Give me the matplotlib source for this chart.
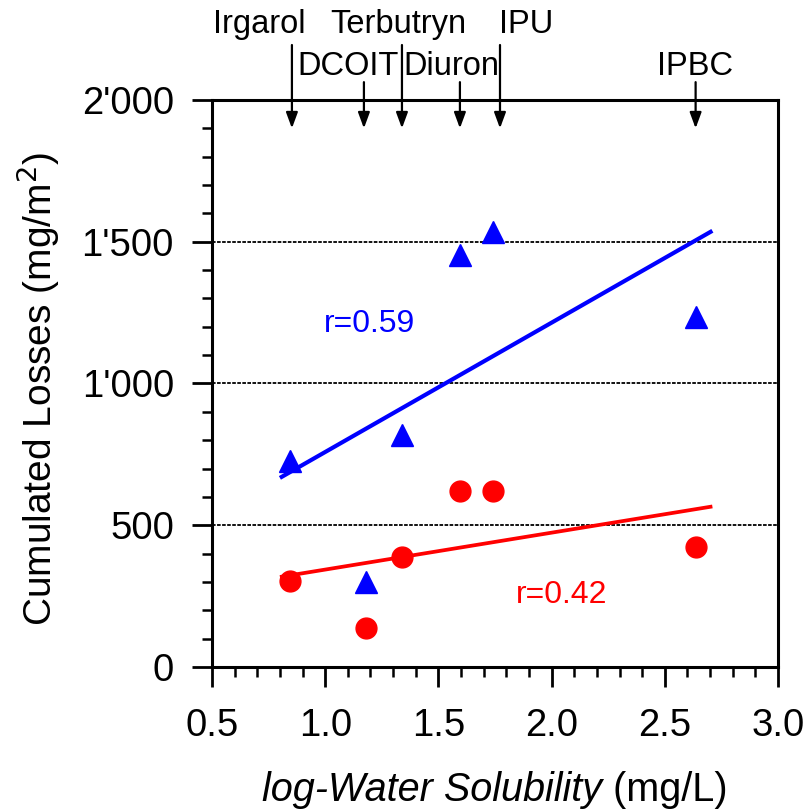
import numpy as np
import matplotlib
matplotlib.use("Agg")
import matplotlib.pyplot as plt
from matplotlib.ticker import MultipleLocator, FuncFormatter

plt.rcParams['font.family'] = ['Liberation Sans', 'DejaVu Sans']

# log water solubility (mg/L) and cumulated losses (mg/m2)
compounds = ["Irgarol", "DCOIT", "Terbutryn", "Diuron", "IPU", "IPBC"]
log_ws = [0.846, 1.178, 1.337, 1.596, 1.739, 2.636]
loss_blue = [728, 301, 820, 1453, 1534, 1234]
loss_red = [302, 138, 387, 622, 622, 424]

# arrow positions for compound names along the top
arrow_x = [0.853, 1.171, 1.339, 1.595, 1.772, 2.636]
label_x = [0.708, 1.100, 1.325, 1.558, 1.887, 2.633]
label_row = [0, 1, 0, 1, 0, 1]

fit_range = [0.80, 2.71]
r_blue = "r=0.59"
r_red = "r=0.42"

fig = plt.figure(figsize=(8.07, 8.11), dpi=100)
ax = fig.add_axes([0.2627, 0.1776, 0.7014, 0.6991])

ax.plot(log_ws, loss_blue, ls="none", marker="^", ms=15.5, color="blue", mec="blue")
ax.plot(log_ws, loss_red, ls="none", marker="o", ms=15, color="red", mec="red")

xf = np.array(fit_range)
kb = np.polyfit(log_ws, loss_blue, 1)
kr = np.polyfit(log_ws, loss_red, 1)
ax.plot(xf, np.polyval(kb, xf), color="blue", lw=3, solid_capstyle="butt")
ax.plot(xf, np.polyval(kr, xf), color="red", lw=2.7, solid_capstyle="butt")

ax.text(0.995, 1181, r_blue, color="blue", fontsize=23, ha="left", va="baseline")
ax.text(1.84, 226, r_red, color="red", fontsize=23, ha="left", va="baseline")

ax.set_xlim(0.5, 3.0)
ax.set_ylim(0, 2000)
ax.xaxis.set_major_locator(MultipleLocator(0.5))
ax.xaxis.set_minor_locator(MultipleLocator(0.1))
ax.yaxis.set_major_locator(MultipleLocator(500))
ax.yaxis.set_minor_locator(MultipleLocator(100))
ax.xaxis.set_major_formatter(FuncFormatter(lambda v, p: "%.1f" % v))
ax.yaxis.set_major_formatter(FuncFormatter(lambda v, p: f"{int(round(v)):,}".replace(",", "'")))

ax.tick_params(which="both", direction="out", top=False, right=False, width=2)
ax.tick_params(which="major", length=14.4, labelsize=27.5)
ax.tick_params(axis="x", which="major", pad=15)
ax.tick_params(axis="y", which="major", pad=13)
ax.tick_params(which="minor", length=7.5, width=1.8)
for s in ax.spines.values():
    s.set_linewidth(2.2)

ax.grid(True, axis="y", which="major", color="black", lw=1.3, ls=(0, (2, 0.8)))
ax.set_axisbelow(True)

# compound names with arrows
for name, ax_x, lx, row in zip(compounds, arrow_x, label_x, label_row):
    tail = 2194 if row == 0 else 2063
    ty = 2236 if row == 0 else 2087
    ax.annotate("", xy=(ax_x, 1900), xytext=(ax_x, tail), annotation_clip=False,
                arrowprops=dict(arrowstyle="-|>,head_length=0.95,head_width=0.35",
                                color="black", lw=1.6, shrinkA=0, shrinkB=0,
                                mutation_scale=10))
    ax.text(lx, ty, name, fontsize=23.5, ha="center", va="baseline", clip_on=False)

ax.set_ylabel("Cumulated Losses (mg/m$^2$)", fontsize=28)
ax.yaxis.set_label_coords(-0.265, 0.49)

t1 = fig.text(0.3247, 0.0123, "log-Water Solubility", fontsize=28.5, style="italic",
              ha="left", va="baseline")
ax.annotate(" (mg/L)", xy=(1, 0), xycoords=t1, fontsize=28.5, ha="left", va="bottom")

fig.savefig("out.png", dpi=100)
